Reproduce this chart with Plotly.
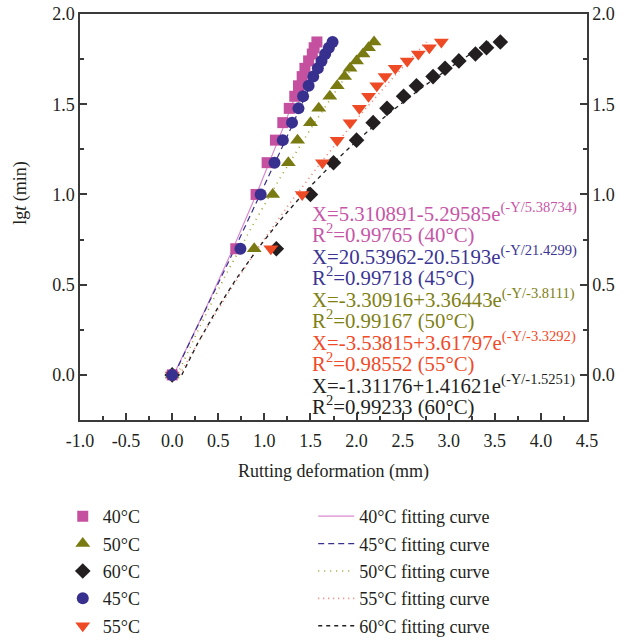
import numpy as np
import plotly.graph_objects as go

# lg t (min) levels, t = 1, 5, 10, ..., 70 min
lg_t = [0.0, 0.699, 1.0, 1.176, 1.301, 1.398, 1.477, 1.544, 1.602, 1.653, 1.699, 1.740, 1.778, 1.813, 1.845]

# rutting deformation (mm) at each time level
rut_40 = [0.0, 0.69, 0.91, 1.03, 1.12, 1.20, 1.27, 1.33, 1.37, 1.41, 1.44, 1.48, 1.52, 1.54, 1.57]
rut_45 = [0.0, 0.74, 0.96, 1.11, 1.20, 1.30, 1.37, 1.42, 1.48, 1.53, 1.58, 1.62, 1.66, 1.70, 1.74]
rut_50 = [0.0, 0.89, 1.09, 1.26, 1.36, 1.50, 1.59, 1.71, 1.79, 1.87, 1.93, 2.00, 2.07, 2.13, 2.19]
rut_55 = [0.0, 1.07, 1.41, 1.63, 1.79, 1.93, 2.03, 2.13, 2.22, 2.31, 2.42, 2.55, 2.67, 2.79, 2.92]
rut_60 = [0.0, 1.13, 1.50, 1.75, 2.00, 2.18, 2.33, 2.51, 2.65, 2.83, 2.96, 3.11, 3.29, 3.41, 3.56]

# fitted model X = a + b * exp(-Y / c)
fit_a = [5.310891, 20.53962, -3.30916, -3.53815, -1.31176]
fit_b = [-5.29585, -20.5193, 3.36443, 3.61797, 1.41621]
fit_c = [5.38734, 21.4299, -3.8111, -3.3292, -1.5251]
fit_r2 = ["0.99765", "0.99718", "0.99167", "0.98552", "0.99233"]
temps = ["40", "45", "50", "55", "60"]

x_ticks = [-1.0, -0.5, 0.0, 0.5, 1.0, 1.5, 2.0, 2.5, 3.0, 3.5, 4.0, 4.5]
y_ticks = [0.0, 0.5, 1.0, 1.5, 2.0]

SERIF = "Liberation Serif"
AXIS = "#3a3a3a"
INK = "#231F20"

marker_colors = {"40": "#C4509F", "45": "#37308F", "50": "#7A7A12", "55": "#EF4A26", "60": "#231F20"}
text_colors = {"40": "#C656A8", "45": "#3B3594", "50": "#808014", "55": "#F04A28", "60": "#231F20"}
symbols = {"40": "square", "45": "circle", "50": "triangle-up", "55": "triangle-down", "60": "diamond"}
sizes = {"40": 11, "45": 12, "50": 13, "55": 13, "60": 12}
series = {"40": rut_40, "45": rut_45, "50": rut_50, "55": rut_55, "60": rut_60}
legend_rank = {"40": 1, "50": 2, "60": 3, "45": 4, "55": 5}
draw_order = ["60", "55", "50", "40", "45"]

curve_styles = {
    "40": dict(color="#D98AD0", width=1.2, dash="solid"),
    "45": dict(color="#37308F", width=1.2, dash="6px,4px"),
    "50": dict(color="#9C9C2A", width=1.6, dash="1px,5px"),
    "55": dict(color="#F07A6A", width=1.6, dash="1px,4px"),
    "60": dict(color="#231F20", width=1.3, dash="4px,4px"),
}

fig = go.Figure()

# fitting curves from the stated parameters
y_fit = np.linspace(0.0, lg_t[-1], 120)
for i, T in enumerate(temps):
    x_fit = fit_a[i] + fit_b[i] * np.exp(-y_fit / fit_c[i])
    fig.add_trace(go.Scatter(
        x=x_fit, y=y_fit, mode="lines", name=f"{T}°C fitting curve",
        line=curve_styles[T], legend="legend2", legendrank=i + 1,
        legendgroup=f"fit{T}", hoverinfo="skip",
    ))

# measured points
for T in draw_order:
    fig.add_trace(go.Scatter(
        x=series[T], y=lg_t, mode="markers", name=f"{T}°C",
        marker=dict(symbol=symbols[T], size=sizes[T], color=marker_colors[T], line=dict(width=0)),
        legend="legend", legendrank=legend_rank[T], legendgroup=f"pts{T}",
    ))

# carrier for the right-hand axis
fig.add_trace(go.Scatter(x=[None], y=[None], yaxis="y2", showlegend=False, hoverinfo="skip"))

# equation labels
eq_lines = []
for i, T in enumerate(temps):
    a, b, c = fit_a[i], fit_b[i], fit_c[i]
    sign = "+" if b > 0 else "-"
    eq = f"X={a}{sign}{abs(b)}e<sup>(-Y/{c})</sup>"
    eq_lines.append((eq, T))
    eq_lines.append((f"R<sup>2</sup>={fit_r2[i]} ({T}°C)", T))

eq_y = [0.902, 0.783, 0.664, 0.544, 0.425, 0.305, 0.186, 0.066, -0.053, -0.172]
for (txt, T), yv in zip(eq_lines, eq_y):
    fig.add_annotation(
        x=1.49, y=yv, xref="x", yref="y", text=txt, showarrow=False,
        xanchor="left", yanchor="middle",
        font=dict(family=SERIF, size=20.8, color=text_colors[T]),
    )

# y-axis title
fig.add_annotation(
    x=-0.118, y=0.56, xref="paper", yref="paper", text="lg<i>t</i> (min)",
    showarrow=False, textangle=-90, xanchor="center", yanchor="middle",
    font=dict(family=SERIF, size=18, color=INK),
)

axis_common = dict(
    showgrid=False, zeroline=False, showline=True, linecolor=AXIS, linewidth=1.5,
    ticks="inside", ticklen=7, tickwidth=1.5, tickcolor=AXIS,
    tickfont=dict(family=SERIF, size=18, color=INK),
)
minor_ticks = dict(dtick=0.25, tick0=0, ticklen=4, tickwidth=1.5, tickcolor=AXIS, ticks="inside")
legend_common = dict(
    xanchor="left", yanchor="top", font=dict(family=SERIF, size=18, color=INK),
    bgcolor="rgba(0,0,0,0)", traceorder="grouped", tracegroupgap=1,
)

fig.update_layout(
    width=635, height=640,
    margin=dict(l=80, r=48, t=14, b=220, autoexpand=False),
    paper_bgcolor="white", plot_bgcolor="white",
    showlegend=True,
    xaxis=dict(
        **axis_common, range=[-1.0, 4.5], tickvals=x_ticks,
        ticktext=[f"{v:.1f}" for v in x_ticks], mirror=True,
        ticklabelstandoff=4, minor=minor_ticks,
        title=dict(text="Rutting deformation (mm)", standoff=14,
                   font=dict(family=SERIF, size=18, color=INK)),
    ),
    yaxis=dict(
        **axis_common, range=[-0.25, 2.0], tickvals=y_ticks,
        ticktext=[f"{v:.1f}" for v in y_ticks], minor=minor_ticks,
    ),
    yaxis2=dict(
        **axis_common, range=[-0.25, 2.0], tickvals=y_ticks,
        ticktext=[f"{v:.1f}" for v in y_ticks], overlaying="y", side="right",
        minor=minor_ticks,
    ),
    legend=dict(**legend_common, x=-0.034, y=-0.192),
    legend2=dict(**legend_common, x=0.46, y=-0.192, itemwidth=36),
)

fig.write_html("out.html")
